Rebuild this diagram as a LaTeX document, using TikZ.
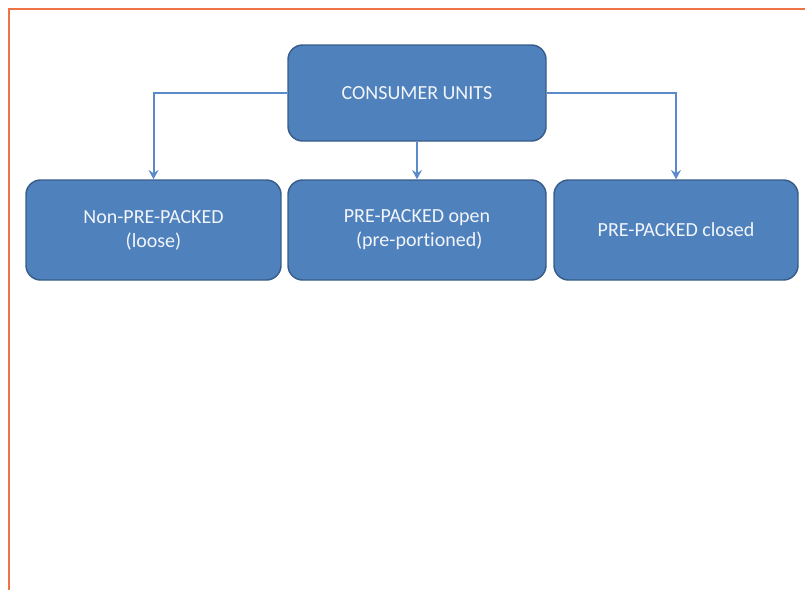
\documentclass[tikz,border=0pt]{standalone}
\usepackage{fontspec}
\setmainfont[RawFeature={-liga}]{Carlito}
\usetikzlibrary{arrows.meta}
\definecolor{boxfill}{HTML}{4F81BD}
\definecolor{boxline}{HTML}{385D8A}
\definecolor{conn}{HTML}{5B8ACB}
\definecolor{frameor}{HTML}{EE7448}
\definecolor{txt}{HTML}{F2F5FA}
\tikzset{
  box/.style={draw=boxline, line width=1.1pt, fill=boxfill, rounded corners=11pt,
    text=txt, align=center, font=\fontsize{15pt}{18pt}\selectfont, inner sep=0pt},
  conn/.style={draw=conn, line width=1.5pt, -{Stealth[length=7pt,width=7.5pt,inset=2.5pt]}},
}
\begin{document}
\begin{tikzpicture}[x=0.75pt,y=-0.75pt]
\useasboundingbox (0,0) rectangle (805,590);
\draw[frameor, line width=1.6pt] (9,590) -- (9,9) -- (805,9);
\node[box, minimum width=193.5pt, minimum height=72pt] (top) at (417,93) {CONSUMER UNITS};
\node[box, minimum width=191.25pt, minimum height=75pt] (left) at (153.5,230) {Non-PRE-PACKED\\(loose)};
\node[box, minimum width=193.5pt, minimum height=75pt] (mid) at (417,230) {PRE-PACKED open\\\ (pre-portioned)};
\node[box, minimum width=183pt, minimum height=75pt] (right) at (676,230) {PRE-PACKED closed};
\draw[conn] (top.west) -| (left.north);
\draw[conn] (top.east) -| (right.north);
\draw[conn] (top.south) -- (mid.north);
\end{tikzpicture}
\end{document}
